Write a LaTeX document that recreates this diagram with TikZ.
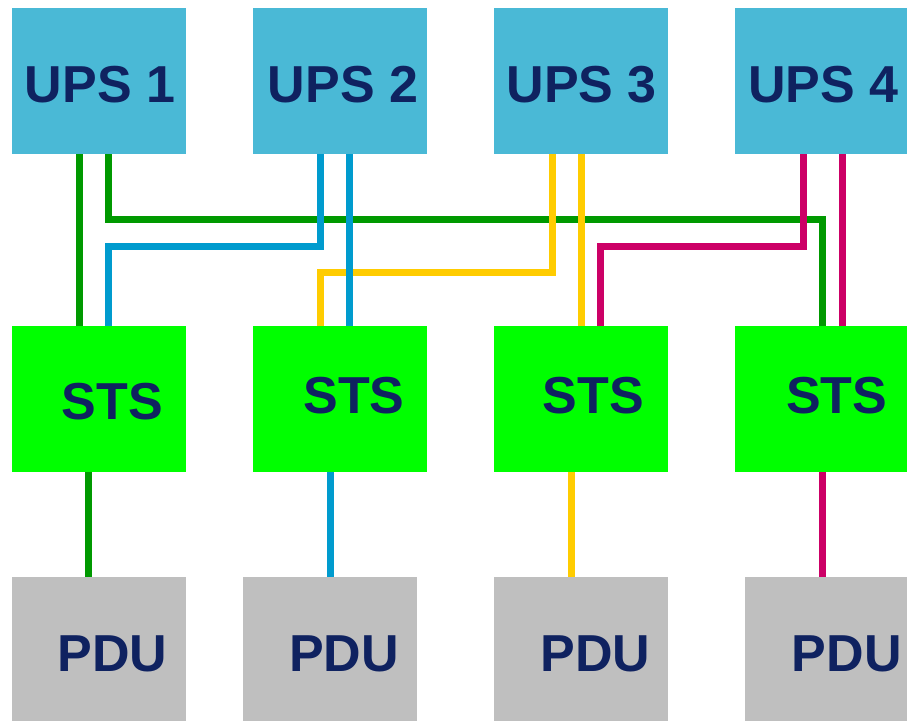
\documentclass[tikz,border=0pt]{standalone}
\usepackage{fontspec}
\setmainfont{Liberation Sans}
\usetikzlibrary{positioning,calc}
\definecolor{upsblue}{HTML}{4AB9D6}
\definecolor{stsgreen}{HTML}{00FF00}
\definecolor{pdugray}{HTML}{BFBFBF}
\definecolor{txtnavy}{HTML}{0F2260}
\definecolor{feedgreen}{HTML}{009900}
\definecolor{feedblue}{HTML}{009BCE}
\definecolor{feedyellow}{HTML}{FFCC00}
\definecolor{feedmagenta}{HTML}{CC0066}

\begin{document}
\begin{tikzpicture}[
    x=1pt, y=-1pt,
    box/.style={rectangle, minimum width=174pt, minimum height=146pt,
                inner sep=0pt, outer sep=0pt},
    upsbox/.style={box, fill=upsblue},
    stsbox/.style={box, fill=stsgreen},
    pdubox/.style={box, fill=pdugray},
    lbl/.style={font=\fontsize{52}{58}\selectfont\bfseries, text=txtnavy,
                inner sep=0pt},
    feed/.style={line width=7pt, line join=miter}
  ]

  % ---- Page ----
  \useasboundingbox (0,0) rectangle (907,720);

  % ============ UPS ROW ============
  \node[upsbox, label={[lbl,xshift=1.5pt,yshift=-3.5pt]center:UPS 1}] (U1) at (98.5,81) {};
  \node[upsbox, label={[lbl,xshift=3pt,yshift=-3.5pt]center:UPS 2}] (U2) at (340,81) {};
  \node[upsbox, label={[lbl,xshift=0.7pt,yshift=-3.5pt]center:UPS 3}] (U3) at (581,81) {};
  \node[upsbox, label={[lbl,xshift=1.5pt,yshift=-3.5pt]center:UPS 4}] (U4) at (822,81) {};

  % ============ STS ROW ============
  \node[stsbox, label={[lbl,xshift=13.8pt,yshift=-3pt]center:STS}] (S1) at (98.5,399) {};
  \node[stsbox, label={[lbl,xshift=14pt,yshift=3.7pt]center:STS}] (S2) at (340,399) {};
  \node[stsbox, label={[lbl,xshift=12.3pt,yshift=3.7pt]center:STS}] (S3) at (581,399) {};
  \node[stsbox, label={[lbl,xshift=14.7pt,yshift=3.7pt]center:STS}] (S4) at (822,399) {};

  % ============ PDU ROW ============
  \node[pdubox, label={[lbl,xshift=14pt,yshift=-3.8pt]center:PDU}] (P1) at (98.5,650) {};
  \node[pdubox, label={[lbl,xshift=14pt,yshift=-3.8pt]center:PDU}] (P2) at (330,650) {};
  \node[pdubox, label={[lbl,xshift=14.3pt,yshift=-3.8pt]center:PDU}] (P3) at (581,650) {};
  \node[pdubox, label={[lbl,xshift=14.7pt,yshift=-3.8pt]center:PDU}] (P4) at (832,650) {};

  % ============ CROSS FEED LEVELS ============
  \coordinate (busG) at (0,219.7);
  \coordinate (busB) at (0,246.7);
  \coordinate (busY) at (0,272.4);

  % feed ends
  \coordinate (g1) at ([xshift=9.5pt]U1.south);
  \coordinate (g4) at ([xshift=0.7pt]S4.north);
  \coordinate (b2) at ([xshift=-19.7pt]U2.south);
  \coordinate (b1) at ([xshift=9.5pt]S1.north);
  \coordinate (y3) at ([xshift=-28.7pt]U3.south);
  \coordinate (y2) at ([xshift=-19.7pt]S2.north);
  \coordinate (m4) at ([xshift=-18.7pt]U4.south);
  \coordinate (m3) at ([xshift=19.8pt]S3.north);

  % ============ UPS 1 (green) ============
  \draw[feed, feedgreen] ([xshift=-19.5pt]U1.south) -- ([xshift=-19.5pt]S1.north);
  \draw[feed, feedgreen] (g1) -- (g1 |- busG) -| (g4);

  % ============ UPS 3 (yellow) ============
  \draw[feed, feedyellow] ([xshift=0.7pt]U3.south) -- ([xshift=0.7pt]S3.north);
  \draw[feed, feedyellow] (y3) -- (y3 |- busY) -| (y2);

  % ============ UPS 2 (blue) ============
  \draw[feed, feedblue] ([xshift=9.3pt]U2.south) -- ([xshift=9.3pt]S2.north);
  \draw[feed, feedblue] (b2) -- (b2 |- busB) -| (b1);

  % ============ UPS 4 (magenta) ============
  \draw[feed, feedmagenta] ([xshift=20pt]U4.south) -- ([xshift=20pt]S4.north);
  \draw[feed, feedmagenta] (m4) -- (m4 |- busB) -| (m3);

  % ============ STS --> PDU ============
  \draw[feed, feedgreen] ([xshift=-10.2pt]S1.south) -- ([xshift=-10.2pt]P1.north);
  \draw[feed, feedblue] ([xshift=-10pt]S2.south) -- (P2.north);
  \draw[feed, feedyellow] ([xshift=-9.7pt]S3.south) -- ([xshift=-9.7pt]P3.north);
  \draw[feed, feedmagenta] ([xshift=0.7pt]S4.south) -- ([xshift=-9.3pt]P4.north);

\end{tikzpicture}
\end{document}
